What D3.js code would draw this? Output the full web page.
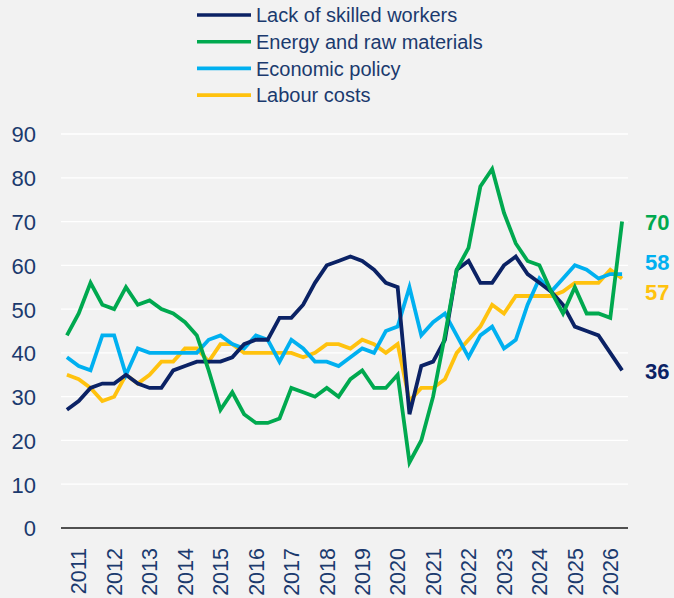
<!DOCTYPE html>
<html>
<head>
<meta charset="utf-8">
<script src="https://cdn.jsdelivr.net/npm/d3@7"></script>
<style>
  html, body { margin: 0; padding: 0; background: #f2f2f2; }
  svg { display: block; font-family: "Liberation Sans", Arial, sans-serif; }
</style>
</head>
<body>
<svg id="chart" width="674" height="598"></svg>
<script>
// ---- Data (three survey waves per year, 2011–2026) ----
const years = ["2011","2012","2013","2014","2015","2016","2017","2018","2019","2020","2021","2022","2023","2024","2025","2026"];
const wavesPerYear = 3;
const yTicks = [0, 10, 20, 30, 40, 50, 60, 70, 80, 90];

const seriesNames = ["Lack of skilled workers", "Energy and raw materials", "Economic policy", "Labour costs"];

const skilledWorkers = [27,29,32,33,33,35,33,32,32,36, 37,38,38,38,39,42,43,43,48,48, 51,56,60,61,62,61,59,56,55,26, 37,38,43,59,61,56,56,60,62,58, 56,54,51,46,45,44,40,36];
const energyRaw      = [44,49,56,51,50,55,51,52,50,49, 47,44,36,27,31,26,24,24,25,32, 31,30,32,30,34,36,32,32,35,15, 20,30,44,59,64,78,82,72,65,61, 60,54,49,55,49,49,48,70];
const economicPolicy = [39,37,36,44,44,35,41,40,40,40, 40,40,43,44,42,41,44,43,38,43, 41,38,38,37,39,41,40,45,46,55, 44,47,49,44,39,44,46,41,43,51, 57,54,57,60,59,57,58,58];
const labourCosts    = [35,34,32,29,30,35,33,35,38,38, 41,41,38,42,42,40,40,40,40,40, 39,40,42,42,41,43,42,40,42,29, 32,32,34,40,43,46,51,49,53,53, 53,53,54,56,56,56,59,57];

const seriesColors = ["#0b2265", "#00a94f", "#00b0f0", "#ffc20e"];
const seriesValues = [skilledWorkers, energyRaw, economicPolicy, labourCosts];

// ---- Layout ----
const svg = d3.select("#chart");
const W = 674, H = 598;
const plot = { left: 61, right: 628, top: 134, bottom: 528 };
const textColor = "#1b3a6e";

svg.append("rect").attr("width", W).attr("height", H).attr("fill", "#f2f2f2");

const nPoints = years.length * wavesPerYear;
const x = d3.scaleBand().domain(d3.range(nPoints)).range([plot.left, plot.right]);
const xc = i => x(i) + x.bandwidth() / 2;
const y = d3.scaleLinear().domain([0, 90]).range([plot.bottom, plot.top]);

// Gridlines
svg.append("g").selectAll("line")
  .data(yTicks.filter(t => t > 0))
  .join("line")
  .attr("x1", plot.left).attr("x2", plot.right)
  .attr("y1", d => y(d)).attr("y2", d => y(d))
  .attr("stroke", "#ffffff").attr("stroke-width", 1.3);

// Y axis labels
const yAxis = d3.axisLeft(y).tickValues(yTicks).tickSize(0).tickPadding(0);
const gy = svg.append("g").attr("transform", `translate(36,0)`).call(yAxis);
gy.select(".domain").remove();
gy.selectAll("text")
  .attr("fill", textColor)
  .attr("font-size", 22)
  .attr("font-family", "Liberation Sans, Arial, sans-serif")
  .attr("dy", "0.36em");

// Zero baseline
svg.append("line")
  .attr("x1", plot.left).attr("x2", plot.right)
  .attr("y1", y(0)).attr("y2", y(0))
  .attr("stroke", "#1a1a1a").attr("stroke-width", 1.6);

// X axis year labels (centred on each year's middle wave)
const xAxis = d3.axisBottom(x)
  .tickValues(years.map((yr, k) => k * wavesPerYear + 1))
  .tickFormat(i => years[Math.floor(i / wavesPerYear)])
  .tickSize(0).tickPadding(0);
const gx = svg.append("g").attr("transform", `translate(0,${plot.bottom})`).call(xAxis);
gx.select(".domain").remove();
gx.selectAll("text")
  .attr("fill", textColor)
  .attr("font-size", 21.5)
  .attr("font-family", "Liberation Sans, Arial, sans-serif")
  .attr("text-anchor", "end")
  .attr("transform", "rotate(-90)")
  .attr("x", -20)
  .attr("y", 0)
  .attr("dy", "0.36em");

// Lines
const line = d3.line().x((d, i) => xc(i)).y(d => y(d)).curve(d3.curveLinear);
const drawOrder = [3, 2, 0, 1];
drawOrder.forEach(s => {
  svg.append("path")
    .datum(seriesValues[s])
    .attr("d", line)
    .attr("fill", "none")
    .attr("stroke", seriesColors[s])
    .attr("stroke-width", 3.8)
    .attr("stroke-linejoin", "miter")
    .attr("stroke-linecap", "butt");
});

// End value labels
const labelOffsets = [1, 1, -12, 14];
seriesValues.forEach((vals, s) => {
  const v = vals[vals.length - 1];
  svg.append("text")
    .attr("x", 645)
    .attr("y", y(v) + labelOffsets[s])
    .attr("dy", "0.36em")
    .attr("fill", seriesColors[s])
    .attr("font-size", 22)
    .attr("font-weight", "bold")
    .text(v);
});

// Legend
const legend = svg.append("g");
seriesNames.forEach((name, s) => {
  const ly = 15 + s * 26.7;
  legend.append("line")
    .attr("x1", 197).attr("x2", 251)
    .attr("y1", ly).attr("y2", ly)
    .attr("stroke", seriesColors[s]).attr("stroke-width", 3.6);
  legend.append("text")
    .attr("x", 256).attr("y", ly)
    .attr("dy", "0.36em")
    .attr("fill", textColor)
    .attr("font-size", 20)
    .text(name);
});
</script>
</body>
</html>
